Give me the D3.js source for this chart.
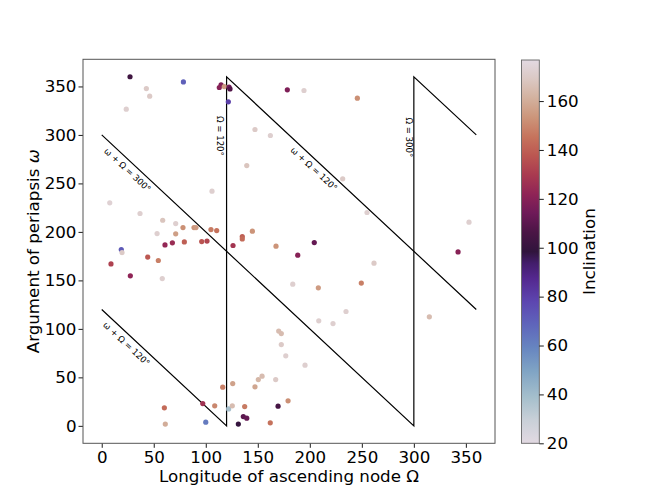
<!DOCTYPE html>
<html>
<head>
<meta charset="utf-8">
<script src="https://cdn.jsdelivr.net/npm/d3@7"></script>
<style>
  body { margin: 0; background: #fff; }
  svg { font-family: "DejaVu Sans", sans-serif; }
</style>
</head>
<body>
<svg id="chart"></svg>
<script>
// longitude of ascending node (deg)
var nodeLon = [27.2, 42.9, 46.1, 23.6, 78.5, 114.7, 113, 117.8, 122.4, 123.3, 121.7, 178.4, 194.4, 245.7,
  147.3, 162.1, 139.4, 231.6, 106, 7.7, 36.8, 58.6, 71.1, 78.1, 88.7, 90.6, 105, 110.5, 53.2, 71.1,
  60.8, 67.9, 79.4, 96.1, 101.2, 126.2, 18.8, 19.5, 8.9, 44.2, 54.4, 27.5, 58.2, 135.1, 135.1, 144.8,
  167.5, 204.3, 188.4, 255, 261.7, 183.6, 208.2, 249.5, 353, 342.5, 116.3, 125.9, 60.2, 97.1, 108.6,
  122, 125.5, 61.1, 100, 131.3, 234.8, 208.6, 222.3, 314.9, 170.1, 172.6, 172.6, 176.9, 195.4, 150.5,
  154.1, 167.2, 147.3, 179.1, 137.4, 169.5, 136.1, 139.4, 162];
// argument of periapsis (deg)
var periArg = [360, 347.8, 340, 326.6, 354.7, 351.7, 348.9, 349.9, 349.3, 347.5, 334.1, 346.5, 345.8, 337.9,
  305.6, 299.4, 268.4, 254.7, 242, 230, 219, 212, 208.6, 204.5, 204.5, 204.5, 202.4, 201.4, 198.3, 198,
  186.6, 188.7, 189.7, 190, 190.5, 186, 181.8, 178.7, 167, 174, 170.5, 154.7, 151.9, 195.2, 192.8, 200.8,
  185.3, 189, 176, 220, 167.8, 146.1, 142.3, 147.2, 210, 179.4, 39.9, 43.6, 18.6, 23, 20.6,
  17.5, 20.6, 1.8, 3.8, 1.8, 117.9, 108.3, 105.5, 112.4, 97.7, 95.2, 83.8, 72.2, 62.6, 47.7,
  51.2, 47.7, 40.2, 25.8, 19.9, 20.3, 9.6, 7.9, 3.1];
// inclination (deg)
var incl = [103, 170, 170, 172, 70, 118, 120, 155, 115, 108, 80, 118, 172, 152,
  170, 172, 168, 170, 172, 173, 172, 168, 172, 152, 153, 155, 147, 145, 172, 156,
  123, 125, 140, 137, 133, 128, 72, 170, 132, 138, 148, 122, 172, 140, 143, 153,
  153, 112, 120, 172, 170, 172, 155, 148, 172, 120, 148, 157, 143, 127, 150,
  38, 165, 160, 62, 100, 172, 172, 172, 165, 165, 165, 170, 172, 172, 163,
  165, 170, 158, 152, 147, 105, 110, 112, 145];

// reference lines (omega + Omega = const, wrapped at 360)
var line120Node = [0, 120, 120, 360];
var line120Peri = [120, 0, 360, 120];
var line300Node = [0, 300, 300, 360];
var line300Peri = [300, 0, 360, 300];

// rotated annotations
var noteText = ["\u03c9 + \u03a9 = 300\u00b0", "\u03c9 + \u03a9 = 120\u00b0", "\u03c9 + \u03a9 = 120\u00b0", "\u03a9 = 120\u00b0", "\u03a9 = 300\u00b0"];
var noteNode = [24.8, 23.8, 204, 113.7, 295.4];
var notePeri = [264, 84.6, 265, 299, 297.5];
var noteAngle = [43, 43, 43, 90, 90];

var axisTicks = [0, 50, 100, 150, 200, 250, 300, 350];
var barTicks = [20, 40, 60, 80, 100, 120, 140, 160];
var inclMin = 20;
var inclMax = 176.8;

// approximation of matplotlib's twilight colormap
var twilightStops = ["#e2d9e2", "#c9d0d8", "#a5bfcc", "#7fa3c4", "#6785c0", "#5f65bb", "#5d46b0",
  "#54288f", "#431d6b", "#30143c", "#4a1545", "#6e1a58", "#8f2456", "#a93a50", "#bb5651",
  "#c6745d", "#cc957a", "#d3b19e", "#dbc8c3", "#e2d9e2"];
var twilightPos = [0, 0.06, 0.12, 0.19, 0.25, 0.31, 0.37, 0.43, 0.47, 0.5, 0.55, 0.6, 0.65, 0.7,
  0.75, 0.8, 0.85, 0.9, 0.95, 1];

var width = 664;
var height = 498;
var fontSize = 16.7;

var svg = d3.select("#chart").attr("width", width).attr("height", height);

// plot area (note: "top" is reserved on window, so prefix these)
var plotLeft = 83, plotRight = 495, plotTop = 59.3, plotBottom = 443.3;

var x = d3.scaleLinear().domain([-18, 378]).range([plotLeft, plotRight]);
var y = d3.scaleLinear().domain([-18, 378]).range([plotBottom, plotTop]);

var twilight = d3.scaleLinear()
  .domain(twilightPos.map(function (p) { return inclMin + p * (inclMax - inclMin); }))
  .range(twilightStops)
  .interpolate(d3.interpolateRgb)
  .clamp(true);

// axes
var xAxis = svg.append("g")
  .attr("transform", "translate(0," + plotBottom + ")")
  .call(d3.axisBottom(x).tickValues(axisTicks).tickSize(4.5).tickPadding(3));
var yAxis = svg.append("g")
  .attr("transform", "translate(" + plotLeft + ",0)")
  .call(d3.axisLeft(y).tickValues(axisTicks).tickSize(4.5).tickPadding(2));

[xAxis, yAxis].forEach(function (a) {
  a.select(".domain").remove();
  a.selectAll("text").attr("font-size", fontSize).attr("font-family", "DejaVu Sans").attr("fill", "#000");
  a.selectAll("line").attr("stroke", "#000").attr("stroke-width", 0.9);
});

// frame
svg.append("rect")
  .attr("x", plotLeft).attr("y", plotTop)
  .attr("width", plotRight - plotLeft).attr("height", plotBottom - plotTop)
  .attr("fill", "none").attr("stroke", "#555").attr("stroke-width", 1);

// reference lines
var lineGen = d3.line()
  .x(function (d) { return x(d[0]); })
  .y(function (d) { return y(d[1]); });

[[line120Node, line120Peri], [line300Node, line300Peri]].forEach(function (l) {
  svg.append("path")
    .attr("d", lineGen(d3.zip(l[0], l[1])))
    .attr("fill", "none")
    .attr("stroke", "#000")
    .attr("stroke-width", 1.2);
});

// annotations
noteText.forEach(function (t, i) {
  svg.append("text")
    .attr("transform", "translate(" + x(noteNode[i]) + "," + y(notePeri[i]) + ") rotate(" + noteAngle[i] + ")")
    .attr("text-anchor", "middle")
    .attr("dominant-baseline", "central")
    .attr("font-size", 8.6)
    .text(t);
});

// scatter points
svg.append("g")
  .selectAll("circle")
  .data(d3.range(nodeLon.length))
  .enter()
  .append("circle")
  .attr("cx", function (i) { return x(nodeLon[i]); })
  .attr("cy", function (i) { return y(periArg[i]); })
  .attr("r", 2.6)
  .attr("fill", function (i) { return twilight(incl[i]); });

// axis labels
svg.append("text")
  .attr("x", (plotLeft + plotRight) / 2).attr("y", 482)
  .attr("text-anchor", "middle")
  .attr("font-size", fontSize)
  .text("Longitude of ascending node \u03a9");

svg.append("text")
  .attr("transform", "translate(39," + (plotTop + plotBottom) / 2 + ") rotate(-90)")
  .attr("text-anchor", "middle")
  .attr("font-size", fontSize)
  .html("Argument of periapsis <tspan font-style='italic'>\u03c9</tspan>");

// colorbar
var barLeft = 521.5, barWidth = 17.8, barTop = 60, barBottom = 443.3;
var cy = d3.scaleLinear().domain([inclMin, inclMax]).range([barBottom, barTop]);

var grad = svg.append("defs").append("linearGradient")
  .attr("id", "twilight-grad")
  .attr("x1", 0).attr("y1", 1).attr("x2", 0).attr("y2", 0);
grad.selectAll("stop")
  .data(twilightPos)
  .enter()
  .append("stop")
  .attr("offset", function (d) { return d; })
  .attr("stop-color", function (d, i) { return twilightStops[i]; });

svg.append("rect")
  .attr("x", barLeft).attr("y", barTop)
  .attr("width", barWidth).attr("height", barBottom - barTop)
  .attr("fill", "url(#twilight-grad)")
  .attr("stroke", "#666").attr("stroke-width", 0.9);

var barAxis = svg.append("g")
  .attr("transform", "translate(" + (barLeft + barWidth) + ",0)")
  .call(d3.axisRight(cy).tickValues(barTicks).tickSize(4.5).tickPadding(3));
barAxis.select(".domain").remove();
barAxis.selectAll("text").attr("font-size", fontSize).attr("font-family", "DejaVu Sans").attr("fill", "#000");
barAxis.selectAll("line").attr("stroke", "#000").attr("stroke-width", 0.9);

svg.append("text")
  .attr("transform", "translate(595," + (barTop + barBottom) / 2 + ") rotate(-90)")
  .attr("text-anchor", "middle")
  .attr("font-size", fontSize)
  .text("Inclination");
</script>
</body>
</html>
